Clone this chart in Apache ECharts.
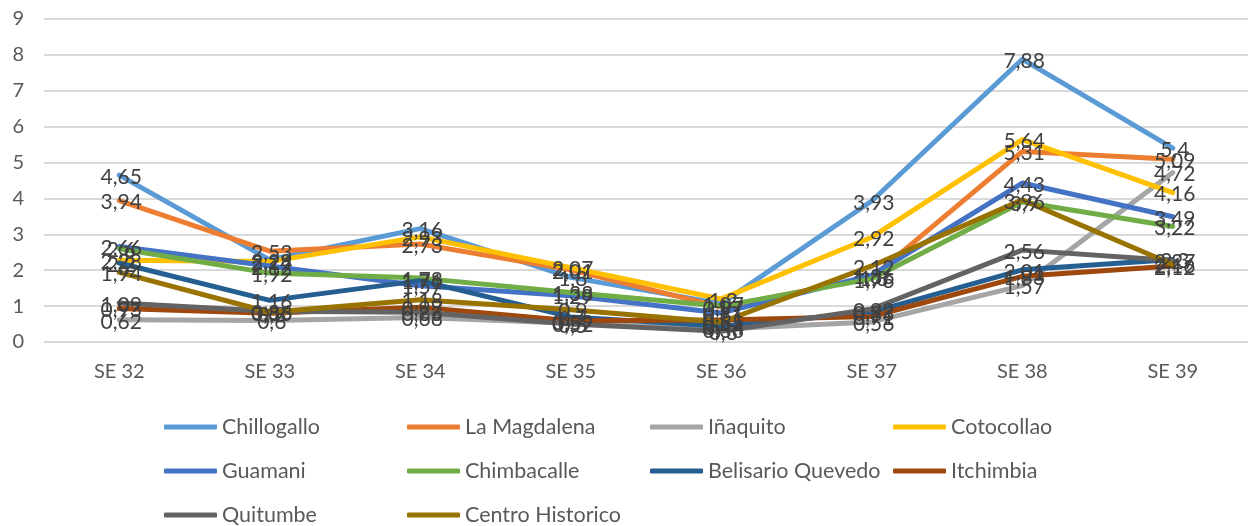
<!DOCTYPE html>
<html>
<head>
<meta charset="utf-8">
<script src="https://cdn.jsdelivr.net/npm/echarts@6/dist/echarts.min.js"></script>
<style>
html,body{margin:0;padding:0;background:#fff;}
#chart{width:1248px;height:526px;}
</style>
</head>
<body>
<div id="chart"></div>
<script>
const categories = ['SE 32','SE 33','SE 34','SE 35','SE 36','SE 37','SE 38','SE 39'];
const seriesNames = ['Chillogallo','La Magdalena','Iñaquito','Cotocollao','Guamani','Chimbacalle','Belisario Quevedo','Itchimbia','Quitumbe','Centro Historico'];
const seriesColors = ['#5B9BD5','#ED7D31','#A5A5A5','#FFC000','#4472C4','#70AD47','#255E91','#9E480E','#636363','#997300'];

const chillogallo     = [4.65, 2.29, 3.16, 1.8,  1.07, 3.93, 7.88, 5.4];
const laMagdalena     = [3.94, 2.53, 2.73, 2.01, 0.97, 1.8,  5.31, 5.09];
const inaquito        = [0.62, 0.6,  0.68, 0.52, 0.36, 0.56, 1.57, 4.72];
const cotocollao      = [2.28, 2.24, 2.93, 2.07, 1.2,  2.92, 5.64, 4.16];
const guamani         = [2.66, 2.12, 1.57, 1.29, 0.81, 1.86, 4.43, 3.49];
const chimbacalle     = [2.6,  1.92, 1.78, 1.38, 1.0,  1.76, 3.9,  3.22];
const belisario       = [2.2,  1.16, 1.71, 0.7,  0.44, 0.83, 2.01, 2.3];
const itchimbia       = [0.93, 0.8,  0.97, 0.59, 0.61, 0.71, 1.83, 2.12];
const quitumbe        = [1.09, 0.86, 0.83, 0.5,  0.3,  0.92, 2.56, 2.27];
const centroHistorico = [1.94, 0.83, 1.18, 0.9,  0.55, 2.12, 3.96, 2.16];

const seriesData = [chillogallo, laMagdalena, inaquito, cotocollao, guamani, chimbacalle, belisario, itchimbia, quitumbe, centroHistorico];

const FONT = 'Lato';
const chart = echarts.init(document.getElementById('chart'), null, {renderer:'canvas'});

const series = seriesNames.map((name, i) => ({
  name: name,
  type: 'line',
  data: seriesData[i],
  symbol: 'circle',
  symbolSize: 0.1,
  showSymbol: true,
  color: seriesColors[i],
  lineStyle: {width: 5, color: seriesColors[i], cap: 'round', join: 'round'},
  itemStyle: {color: seriesColors[i]},
  label: {
    show: true,
    position: 'inside',
    offset: [2, 2],
    color: '#404040',
    fontFamily: FONT,
    fontSize: 21,
    formatter: p => String(p.value).replace('.', ',')
  },
  emphasis: {disabled: true},
  animation: false
}));

chart.setOption({
  animation: false,
  grid: {left: 44, right: -15, top: 19, bottom: 184, containLabel: false},
  xAxis: {
    type: 'category',
    data: categories,
    boundaryGap: true,
    axisLine: {show: false},
    axisTick: {show: false},
    axisLabel: {color: '#595959', fontFamily: FONT, fontSize: 20, margin: 20}
  },
  yAxis: {
    type: 'value',
    min: 0, max: 9, interval: 1,
    axisLine: {show: false},
    axisTick: {show: false},
    axisLabel: {color: '#595959', fontFamily: FONT, fontSize: 20, margin: 20},
    splitLine: {lineStyle: {color: '#D9D9D9', width: 2}}
  },
  legend: {
    left: 164, top: 410, width: 975,
    padding: 0,
    itemWidth: 53, itemHeight: 5, itemGap: 10,
    icon: 'roundRect',
    textStyle: {color: '#595959', fontFamily: FONT, fontSize: 21.5, width: 175, height: 34, lineHeight: 34, padding: [0,0,0,0]},
    data: seriesNames
  },
  series: series
});
</script>
</body>
</html>
